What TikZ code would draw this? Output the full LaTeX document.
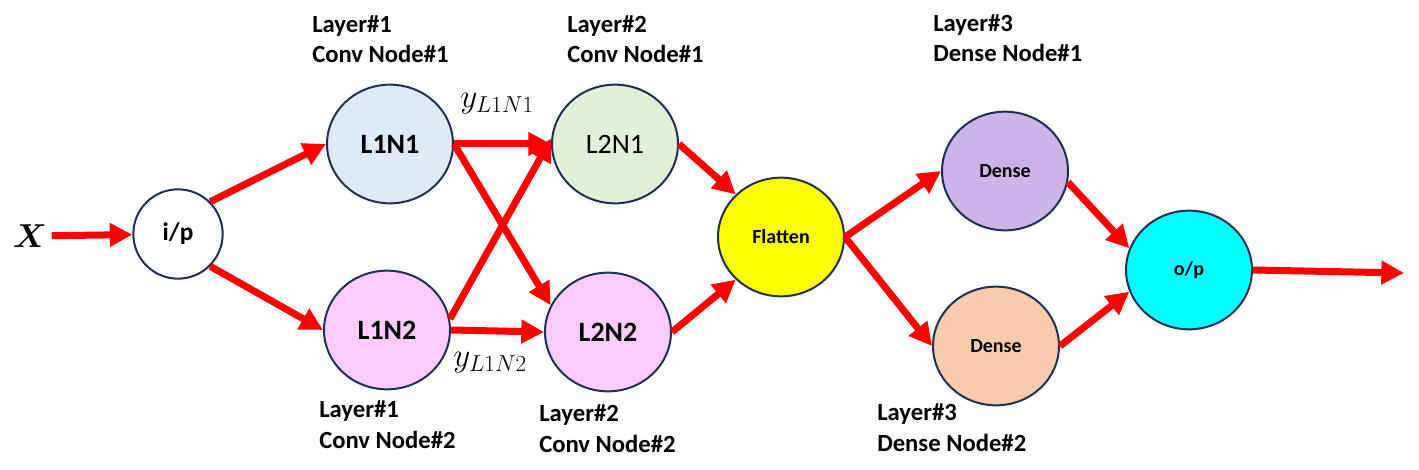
\documentclass[tikz,border=0pt]{standalone}
\usepackage{amsmath}
\usepackage{fontspec}
\setmainfont{Carlito}
\usetikzlibrary{shapes.geometric,arrows.meta}

\definecolor{nodeborder}{HTML}{1F3050}
\definecolor{bluefill}{HTML}{DEEBF7}
\definecolor{greenfill}{HTML}{E2F0D9}
\definecolor{pinkfill}{HTML}{FFCCFF}
\definecolor{lavenderfill}{HTML}{CDB4E8}
\definecolor{peachfill}{HTML}{F8CBAD}
\definecolor{flatfill}{HTML}{FFFF00}
\definecolor{outfill}{HTML}{00FFFF}
\definecolor{linkred}{HTML}{FF0000}

\begin{document}
\begin{tikzpicture}[x=0.75pt,y=-0.75pt,
    neuron/.style={ellipse,draw=nodeborder,line width=1.5pt,inner sep=0pt,minimum width=94.5pt,minimum height=89pt,font=\fontsize{21}{25}\selectfont\bfseries},
    smallneuron/.style={neuron,font=\fontsize{15}{18}\selectfont\bfseries},
    inputneuron/.style={neuron,minimum width=67pt,minimum height=67pt,fill=white,font=\fontsize{19}{22}\selectfont\bfseries},
    layerlabel/.style={align=left,anchor=base west,inner sep=0pt,font=\fontsize{18.5}{23}\selectfont\bfseries},
    link/.style={linkred,line width=5.25pt,-{Triangle[length=17pt,width=17pt]}}
    ]

    \useasboundingbox (0,0) rectangle (1419,470);

    \node (X) at (30,236) {\fontsize{25}{30}\selectfont$\boldsymbol{X}$};
    \node (ip) [inputneuron] at (178,234) {i/p};

    \node (l1n1) [neuron,fill=bluefill] at (390,144) {L1N1};
    \node (l1n2) [neuron,fill=pinkfill] at (387,330) {L1N2};
    \node (l2n1) [neuron,fill=greenfill,font=\fontsize{21}{25}\selectfont] at (615,144) {L2N1};
    \node (l2n2) [neuron,fill=pinkfill] at (608,332) {L2N2};

    \node (flat) [smallneuron,fill=flatfill] at (781,237) {Flatten};
    \node (dense1) [smallneuron,fill=lavenderfill] at (1005,171) {Dense};
    \node (dense2) [smallneuron,fill=peachfill] at (996,346) {Dense};
    \node (op) [smallneuron,fill=outfill] at (1189,270) {o/p};
    \coordinate (out) at (1404,273);

    % base anchor sits on the second line
    \node (lab11) [layerlabel] at (312,63) {Layer\#1\\Conv Node\#1};
    \node (lab12) [layerlabel] at (319,448) {Layer\#1\\Conv Node\#2};
    \node (lab21) [layerlabel] at (567,63) {Layer\#2\\Conv Node\#1};
    \node (lab22) [layerlabel] at (539,452) {Layer\#2\\Conv Node\#2};
    \node (lab31) [layerlabel] at (933,62) {Layer\#3\\Dense Node\#1};
    \node (lab32) [layerlabel] at (877,451) {Layer\#3\\Dense Node\#2};

    \node (y1) at (497,104) {\fontsize{23}{27}\selectfont$y_{L1N1}$};
    \node (y2) at (490,363) {\fontsize{23}{27}\selectfont$y_{L1N2}$};

    \draw[link] (X) -- (ip);
    \draw[link] (ip.45) -- (l1n1.west);
    \draw[link] (ip.-45) -- (l1n2.west);

    \draw[link] (l1n1.east) -- (l2n1.west);
    \draw[link] (l1n1.east) -- (l2n2.155);
    \draw[link] (l1n2.10) -- (l2n1.175);
    \draw[link] (l1n2.east) -- (l2n2.west);

    \draw[link] (l2n1.east) -- (flat.north west);
    \draw[link] (l2n2.east) -- (flat.south west);
    \draw[link] (flat.east) -- (dense1.west);
    \draw[link] (flat.east) -- (dense2.west);
    \draw[link] (dense1.-10) -- (op.160);
    \draw[link] (dense2.east) -- (op.200);
    \draw[link] (op.east) -- (out);

  \end{tikzpicture}
\end{document}
